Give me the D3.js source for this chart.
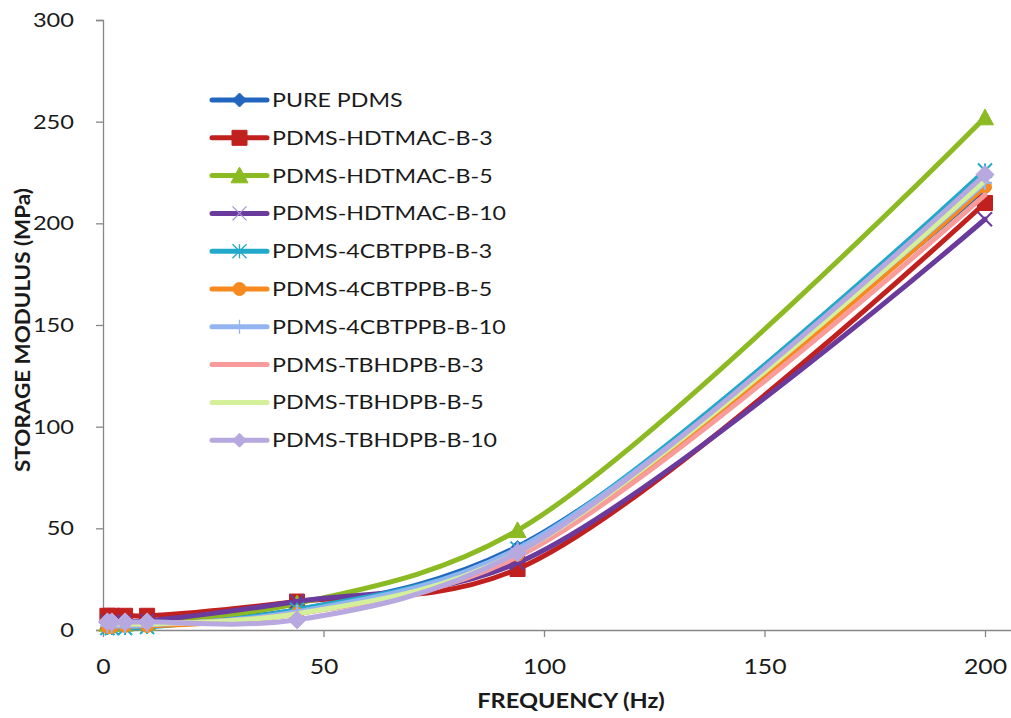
<!DOCTYPE html>
<html>
<head>
<meta charset="utf-8">
<script src="https://cdn.jsdelivr.net/npm/d3@7"></script>
<style>
  html, body { margin: 0; padding: 0; background: #fff; }
  svg { display: block; font-family: Lato, "Open Sans", sans-serif; }
</style>
</head>
<body>
<svg id="chart" width="1011" height="718"></svg>
<script>
// Frequencies (Hz) at which storage modulus was measured
const frequencies = [1, 2, 5, 10, 44, 94, 200];

// Storage modulus (MPa) for each sample
const purePdms        = [2, 2, 2.5, 3, 10, 41, 217];
const hdtmacB3        = [7, 7, 7, 7, 14, 30, 210];
const hdtmacB5        = [3, 3, 3, 3.5, 13, 49, 252];
const hdtmacB10       = [4, 4, 4, 4.5, 14, 33, 202];
const cbtppbB3        = [1, 1, 1, 1.5, 10, 40, 226];
const cbtppbB5        = [1.5, 1.5, 2, 2, 8, 37, 218];
const cbtppbB10       = [2, 2, 2, 2.5, 9, 40, 220];
const tbhdpbB3        = [3, 3, 3, 3, 8, 36, 214];
const tbhdpbB5        = [3, 3, 3, 3, 8, 38, 221];
const tbhdpbB10       = [4, 4, 4, 4, 5, 38, 224];

const seriesNames = [
  "PURE PDMS", "PDMS-HDTMAC-B-3", "PDMS-HDTMAC-B-5", "PDMS-HDTMAC-B-10",
  "PDMS-4CBTPPB-B-3", "PDMS-4CBTPPB-B-5", "PDMS-4CBTPPB-B-10",
  "PDMS-TBHDPB-B-3", "PDMS-TBHDPB-B-5", "PDMS-TBHDPB-B-10"
];
const seriesValues = [purePdms, hdtmacB3, hdtmacB5, hdtmacB10, cbtppbB3,
  cbtppbB5, cbtppbB10, tbhdpbB3, tbhdpbB5, tbhdpbB10];

const xTicks = [0, 50, 100, 150, 200];
const yTicks = [0, 50, 100, 150, 200, 250, 300];

// Styling per series: colour and marker shape
const styles = [
  { color: "#2266C0", marker: "diamond", size: 12 },
  { color: "#C0201E", marker: "square", size: 15 },
  { color: "#8CBA22", marker: "triangle", size: 17 },
  { color: "#6A3A9C", marker: "x", size: 14 },
  { color: "#22A8C8", marker: "star", size: 14 },
  { color: "#F7891E", marker: "circle", size: 13 },
  { color: "#92B5F2", marker: "plus", size: 14 },
  { color: "#F99B9B", marker: "none", size: 0 },
  { color: "#D4F09A", marker: "none", size: 0 },
  { color: "#B8A8E0", marker: "diamond", size: 18 }
];

const series = seriesNames.map((name, i) => ({
  name,
  ...styles[i],
  points: frequencies.map((f, j) => ({ x: f, y: seriesValues[i][j] }))
}));

const svg = d3.select("#chart");

// Text in this chart is set slightly wide
const STRETCH = 1.18;
function widen(sel, k = STRETCH) {
  sel.each(function () {
    const w = this.getComputedTextLength();
    d3.select(this).attr("textLength", w * k).attr("lengthAdjust", "spacingAndGlyphs");
  });
}

const x0 = 103, x200 = 985;
const x = d3.scaleLinear().domain([0, 200]).range([x0, x200]);
const y = d3.scaleLinear().domain([0, 300]).range([630, 20]);
const axisColor = "#878787";
const textColor = "#1a1a1a";

// Y axis
const yAxis = svg.append("g")
  .attr("transform", `translate(${x0},0)`)
  .call(d3.axisLeft(y).tickValues(yTicks).tickSize(7).tickPadding(22).tickFormat(d3.format("d")));
yAxis.select(".domain").attr("stroke", axisColor).attr("stroke-width", 1.3);
yAxis.selectAll(".tick line").attr("stroke", axisColor).attr("stroke-width", 1.3);
yAxis.selectAll(".tick text").attr("fill", textColor).style("font-size", "20px")
  .style("font-family", "Lato, sans-serif").call(widen);

// X axis, with the line running on to the right edge
const xAxisLineEnd = x.invert(1011);
const xAxis = svg.append("g")
  .attr("transform", `translate(0,${y(0)})`)
  .call(d3.axisBottom(x.copy().domain([0, xAxisLineEnd]).range([x0, 1011]))
    .tickValues(xTicks).tickSize(7).tickSizeOuter(0).tickPadding(22).tickFormat(d3.format("d")));
xAxis.select(".domain").attr("stroke", axisColor).attr("stroke-width", 1.3);
xAxis.selectAll(".tick line").attr("stroke", axisColor).attr("stroke-width", 1.3);
xAxis.selectAll(".tick text").attr("fill", textColor).style("font-size", "21px")
  .style("font-family", "Lato, sans-serif").call(widen);

// Axis titles
svg.append("text")
  .attr("x", 571).attr("y", 708)
  .attr("text-anchor", "middle")
  .attr("font-weight", "bold").attr("font-size", 20).attr("fill", textColor)
  .text("FREQUENCY (Hz)").call(widen);
svg.append("text")
  .attr("transform", "translate(30,330) rotate(-90)")
  .attr("text-anchor", "middle")
  .attr("font-weight", "bold").attr("font-size", 20).attr("fill", textColor)
  .text("STORAGE MODULUS (MPa)").call(widen, 1.12);

// Marker path generator
function markerPath(type, s) {
  const h = s / 2;
  switch (type) {
    case "diamond": return `M0,${-h}L${h},0L0,${h}L${-h},0Z`;
    case "square": return `M${-h},${-h}H${h}V${h}H${-h}Z`;
    case "triangle": return `M0,${-h}L${h},${h * 0.85}L${-h},${h * 0.85}Z`;
    case "circle": return d3.symbol(d3.symbolCircle, Math.PI * h * h)();
    case "x": return `M${-h},${-h}L${h},${h}M${h},${-h}L${-h},${h}`;
    case "star": return `M${-h},${-h}L${h},${h}M${h},${-h}L${-h},${h}M0,${-h}V${h}`;
    case "plus": return `M0,${-h}V${h}M${-h},0H${h}`;
    default: return "";
  }
}
const isStroked = t => t === "x" || t === "star" || t === "plus";

const line = d3.line()
  .x(d => x(d.x)).y(d => y(d.y))
  .curve(d3.curveCatmullRom.alpha(0.5));

const plot = svg.append("g");
series.forEach(s => {
  const g = plot.append("g");
  g.append("path")
    .datum(s.points)
    .attr("d", line)
    .attr("fill", "none")
    .attr("stroke", s.color)
    .attr("stroke-width", 5)
    .attr("stroke-linejoin", "round")
    .attr("stroke-linecap", "round");
  if (s.marker !== "none") {
    g.selectAll("path.m")
      .data(s.points)
      .join("path")
      .attr("class", "m")
      .attr("transform", d => `translate(${x(d.x)},${y(d.y)})`)
      .attr("d", markerPath(s.marker, s.size))
      .attr("fill", isStroked(s.marker) ? "none" : s.color)
      .attr("stroke", s.color)
      .attr("stroke-width", isStroked(s.marker) ? 2 : 1);
  }
});

// Legend
const legend = svg.append("g");
const legY0 = 100, legStep = 37.8;
series.forEach((s, i) => {
  const ly = legY0 + i * legStep;
  const g = legend.append("g").attr("transform", `translate(0,${ly})`);
  g.append("line")
    .attr("x1", 212).attr("x2", 267).attr("y1", 0).attr("y2", 0)
    .attr("stroke", s.color).attr("stroke-width", 5).attr("stroke-linecap", "round");
  if (s.marker !== "none") {
    g.append("path")
      .attr("transform", "translate(239.5,0)")
      .attr("d", markerPath(s.marker, s.marker === "diamond" ? 14 : s.size))
      .attr("fill", isStroked(s.marker) ? "none" : s.color)
      .attr("stroke", s.marker === "x" ? "#A98FD8" : s.color)
      .attr("stroke-width", isStroked(s.marker) ? 1.3 : 1);
  }
  g.append("text")
    .attr("x", 272).attr("y", 0).attr("dy", "0.35em")
    .attr("font-size", 20).attr("fill", textColor)
    .text(s.name).call(widen, 1.16);
});
</script>
</body>
</html>
